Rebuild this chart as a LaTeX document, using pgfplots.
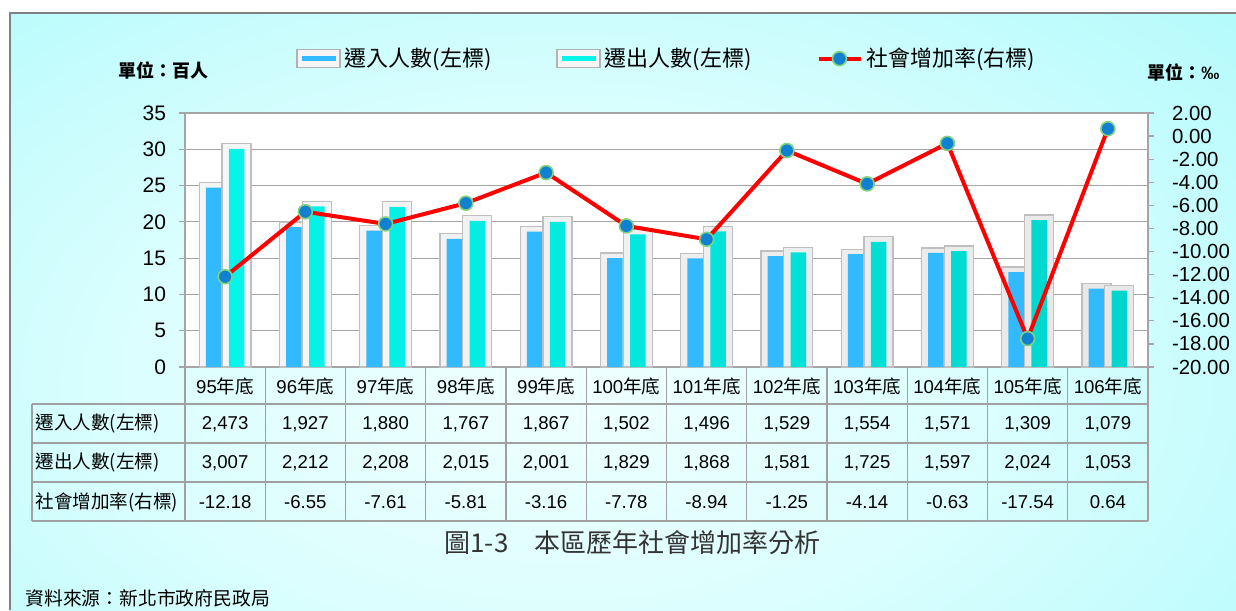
\documentclass[border=0pt]{standalone}
\usepackage{pgfplots}
\pgfplotsset{compat=1.18}
\usepackage{pgfplotstable}
\usepackage{fontspec}
\setmainfont{Liberation Sans}
\newfontfamily\cjk{Noto Sans CJK TC}
\definecolor{bgA}{RGB}{240,255,255}
\definecolor{bgB}{RGB}{220,254,254}
\definecolor{bgC}{RGB}{182,251,252}
\definecolor{bgD}{RGB}{165,250,251}
\definecolor{bgE}{RGB}{100,250,250}
\definecolor{barblue}{RGB}{51,185,253}
\definecolor{cyanL}{RGB}{5,245,235}
\definecolor{cyanR}{RGB}{0,214,205}
\definecolor{mkblue}{RGB}{16,128,208}
\definecolor{mkedge}{RGB}{130,210,130}
\definecolor{gridgray}{RGB}{165,165,165}
\definecolor{tblgray}{RGB}{160,160,160}
\pgfdeclareradialshading{bgshade}{\pgfpoint{0bp}{0bp}}{color(0bp)=(bgA); color(15bp)=(bgB); color(32bp)=(bgC); color(50bp)=(bgD); color(72bp)=(bgE)}
\pgfplotsset{
  linelegend/.style={legend image code/.code={\draw[mark repeat=2,mark phase=2,##1] plot coordinates {(0pt,0pt) (10.5pt,0pt) (21pt,0pt)};}},
  barlegend/.style={legend image code/.code={
    \draw[draw=gray!60, fill=gray!8, line width=0.6pt] (0pt,-4.5pt) rectangle (21.5pt,4.5pt);
    \fill[#1] (2.5pt,-1pt) rectangle (19pt,1pt);}},
}

\pgfplotstableread{
x in out rate
0 24.73 30.07 -12.18
1 19.27 22.12 -6.55
2 18.80 22.08 -7.61
3 17.67 20.15 -5.81
4 18.67 20.01 -3.16
5 15.02 18.29 -7.78
6 14.96 18.68 -8.94
7 15.29 15.81 -1.25
8 15.54 17.25 -4.14
9 15.71 15.97 -0.63
10 13.09 20.24 -17.54
11 10.79 10.53 0.64
}\datatable

\begin{document}
\begin{tikzpicture}
\useasboundingbox (0,0) rectangle (618pt,-305pt);
\fill[white] (0,0) rectangle (618pt,-305pt);
\begin{scope}[x=0.5pt,y=-0.5pt]
  \begin{scope}
    \clip (10,13) rectangle (1236,610);
    \shade[shading=bgshade] (-140,-40) rectangle (1260,800);
  \end{scope}
  \draw[gray, line width=1pt] (10,610) -- (10,13) -- (1236,13);
\end{scope}

% left axis with bars
\begin{axis}[
  at={(92.5pt,-183.5pt)}, anchor=south west,
  width=481.5pt, height=127pt, scale only axis,
  xmin=-0.5, xmax=11.5, ymin=0, ymax=35,
  xtick=\empty,
  ytick={0,5,...,35},
  ytick pos=left,
  tick align=outside,
  major tick length=3pt,
  tick style={gridgray, line width=0.6pt},
  ymajorgrids,
  grid style={gridgray, line width=0.6pt},
  axis line style={gridgray, line width=0.6pt},
  axis background/.style={fill=white},
  /pgf/number format/assume math mode=true,
  tick label style={font=\fontsize{10.5}{12}\selectfont},
  yticklabel style={xshift=-3pt},
]
\addplot[ybar, bar width=14.5pt, bar shift=-5.7pt, left color=gray!7, middle color=white, right color=gray!18, draw=gray!50, line width=0.6pt] table[x=x, y expr=\thisrow{in}+0.7]{\datatable};
\addplot[ybar, bar width=7.75pt, bar shift=-5.7pt, fill=barblue, draw=none] table[x=x, y=in]{\datatable};
\addplot[ybar, bar width=14.5pt, bar shift=5.7pt, left color=gray!7, middle color=white, right color=gray!18, draw=gray!50, line width=0.6pt] table[x=x, y expr=\thisrow{out}+0.7]{\datatable};
\addplot[ybar, bar width=7.75pt, bar shift=5.7pt, left color=cyanL, right color=cyanR, draw=none] table[x=x, y=out]{\datatable};
\end{axis}

% right axis with line
\begin{axis}[
  at={(92.5pt,-183.5pt)}, anchor=south west,
  width=481.5pt, height=127pt, scale only axis,
  xmin=-0.5, xmax=11.5, ymin=-20, ymax=2,
  hide x axis,
  axis y line*=right,
  ytick={-20,-18,...,2},
  tick align=outside,
  major tick length=3pt,
  tick style={gridgray, line width=0.6pt},
  axis line style={gridgray, line width=0.6pt},
  /pgf/number format/assume math mode=true,
  yticklabel style={font=\fontsize{10.2}{12}\selectfont, xshift=5.5pt, /pgf/number format/.cd, fixed, fixed zerofill, precision=2},
  legend columns=3,
  legend style={at={(axis description cs:0.109,1.214)}, anchor=west, draw=none, fill=none,
    font=\cjk\fontsize{11}{13}\selectfont,
    /tikz/every even column/.append style={column sep=30.5pt}},
  legend cell align=left,
]
\addlegendimage{barlegend=barblue}
\addlegendentry{遷入人數(左標)}
\addlegendimage{barlegend=cyanL}
\addlegendentry{遷出人數(左標)}
\addplot[red, line width=2pt, mark=*, mark size=3.5pt,
  mark options={fill=mkblue, draw=mkedge, line width=0.8pt}, linelegend]
  table[x=x, y=rate]{\datatable};
\addlegendentry{社會增加率(右標)}
\end{axis}

% table and texts in pixel coordinates
\begin{scope}[x=0.5pt,y=-0.5pt]
  \foreach \yy in {404,443,482,521} \draw[tblgray, line width=0.6pt] (32,\yy) -- (1148,\yy);
  \draw[tblgray, line width=0.6pt] (32,404) -- (32,521);
  \foreach \k in {0,...,12} \draw[tblgray, line width=0.6pt] ({185+80.25*\k},367) -- ({185+80.25*\k},521);
  \foreach \lab [count=\i from 0] in {95,96,97,98,99,100,101,102,103,104,105,106}
    \node[font=\fontsize{9.3}{11}\selectfont] at ({185+80.25*(\i+0.5)},386) {\lab{\cjk 年底}};
  \foreach \v [count=\i from 0] in {{2,473},{1,927},{1,880},{1,767},{1,867},{1,502},{1,496},{1,529},{1,554},{1,571},{1,309},{1,079}}
    \node[font=\fontsize{9.3}{11}\selectfont] at ({185+80.25*(\i+0.5)},424) {\v};
  \foreach \v [count=\i from 0] in {{3,007},{2,212},{2,208},{2,015},{2,001},{1,829},{1,868},{1,581},{1,725},{1,597},{2,024},{1,053}}
    \node[font=\fontsize{9.3}{11}\selectfont] at ({185+80.25*(\i+0.5)},463) {\v};
  \foreach \v [count=\i from 0] in {-12.18,-6.55,-7.61,-5.81,-3.16,-7.78,-8.94,-1.25,-4.14,-0.63,-17.54,0.64}
    \node[font=\fontsize{9.3}{11}\selectfont] at ({185+80.25*(\i+0.5)},502) {\v};
  \node[anchor=west, font=\cjk\fontsize{9.3}{11}\selectfont, inner sep=0pt] at (35,424) {遷入人數(左標)};
  \node[anchor=west, font=\cjk\fontsize{9.3}{11}\selectfont, inner sep=0pt] at (35,463) {遷出人數(左標)};
  \node[anchor=west, font=\cjk\fontsize{9.3}{11}\selectfont, inner sep=0pt] at (35,502) {社會增加率(右標)};
  \node[anchor=west, font=\cjk\bfseries\fontsize{9}{11}\selectfont, inner sep=0pt] at (118,70) {單位：百人};
  \node[anchor=west, font=\bfseries\fontsize{9}{11}\selectfont, inner sep=0pt] at (1147,72) {{\cjk 單位：}‰};
  \node[font=\cjk\fontsize{13}{15}\selectfont, text=black!80] at (632.5,543) {圖1-3　本區歷年社會增加率分析};
  \node[anchor=west, font=\cjk\fontsize{9.4}{11}\selectfont, inner sep=0pt] at (25,598) {資料來源：新北市政府民政局};
\end{scope}
\end{tikzpicture}
\end{document}
